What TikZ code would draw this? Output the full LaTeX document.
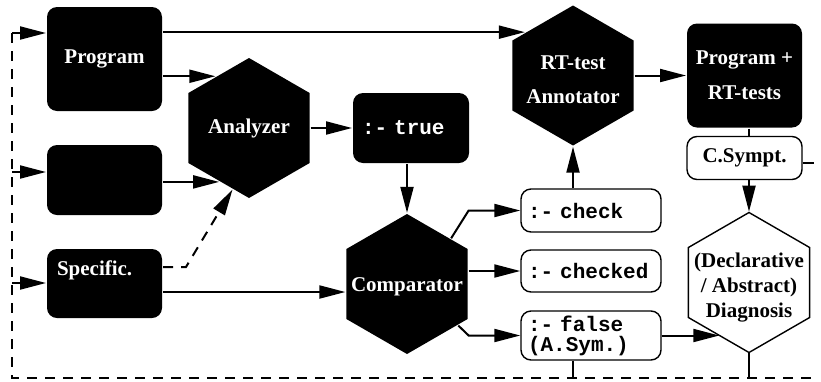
\documentclass[tikz,border=0pt]{standalone}
\usepackage{fontspec}
\setmainfont{Liberation Serif}
\setmonofont{Liberation Mono}
\usetikzlibrary{positioning,shapes.geometric,arrows.meta}
\newcommand{\diafont}{\fontsize{21}{25}\selectfont\bfseries}
\newcommand{\codefont}{\fontsize{21}{25}\selectfont\ttfamily\bfseries}
\tikzset{
  box/.style={rectangle, rounded corners=10pt, minimum width=115pt, fill=black, text=white, align=center},
  whitebox/.style={box, fill=white, draw=black, line width=1.4pt, text=black},
  codebox/.style={rectangle, rounded corners=10pt, draw=black, fill=white, line width=1.4pt, text width=126pt, inner xsep=7pt, align=left, font=\codefont},
  hexa/.style={regular polygon, regular polygon sides=6, shape border rotate=30, minimum size=140pt, inner sep=0pt, fill=black},
  hexlabel/.style={text=white, align=center},
  feedback/.style={dash pattern=on 10pt off 8pt}
}

\begin{document}
\begin{tikzpicture}[on grid, line width=2pt, >={Triangle[length=26pt,width=13pt]}, every node/.style={font=\diafont}]
\useasboundingbox (0,0) rectangle (821pt,-381pt);
\node[box, minimum height=104pt] (prog) at (104.5pt,-59pt) {Program};
\node[box, minimum height=70pt] (input) [below=121pt of prog] {};
\node[box, minimum height=69pt, text width=95pt, align=left, text height=15pt, text depth=32pt] (spec) [below=103.5pt of input] {Specific.};
\node[hexa, label={[hexlabel]center:Analyzer}] (anlz) [below right=69pt and 144.5pt of prog] {};
\node[box, minimum width=116pt, minimum height=70pt, text width=98pt, align=left, font=\codefont] (tru) [right=162pt of anlz] {:- true};
\node[hexa, label={[hexlabel, yshift=-3pt]center:Comparator}] (cmp) [below left=156pt and 4pt of tru] {};
\node[hexa, label={[hexlabel, yshift=-4pt]center:{RT-test\\[9pt]Annotator}}] (ann) [above right=52.5pt and 162pt of tru] {};
\node[box, minimum height=104pt] (out) [right=171.5pt of ann] {Program +\\[10pt]RT-tests};
\node[whitebox, minimum height=43pt] (symp) [below=82.5pt of out] {C.Sympt.};
\node[hexa, fill=white, draw=black, line width=1.4pt, label={[align=center, yshift=-5pt]center:{(Declarative\\/ Abstract)\\Diagnosis}}] (diag) [below right=124.5pt and 4.5pt of symp] {};
\node[codebox, minimum height=43pt] (chk) [below right=135pt and 18pt of ann] {:- check};
\node[codebox, minimum height=42pt] (chkd) [below=60.5pt of chk] {:- checked};
\node[codebox, minimum height=49pt] (fls) [below=64.5pt of chkd] {:- false\\[-5pt](A.Sym.)};

\coordinate (fb1) at (12pt,-33pt);
\coordinate (fb2) at (12pt,-172pt);
\coordinate (fb3) at (12pt,-283pt);
\coordinate (fbbot) at (12pt,-378pt);
\coordinate (fbend) at (817pt,-378pt);
\coordinate (sc) at ([yshift=-8pt]cmp.180);
\coordinate (rt) at ([xshift=11pt,yshift=-4.5pt]symp.east);

\draw[feedback] (fb1) -- (fbbot) -- (fbend);
\path[->]
(fb1) edge (fb1 -| prog.west)
(fb2) edge (fb2 -| input.west)
(fb3) edge (fb3 -| spec.west)
(prog.east |- ann.138) edge (ann.138)
(prog.east |- anlz.123) edge (anlz.123)
(input.east |- anlz.241) edge (anlz.241)
(spec.east |- sc) edge (sc)
(anlz) edge (tru)
(tru.south -| cmp.90) edge (cmp.90)
(cmp.0 |- chkd.west) edge (chkd.west)
(chk.north -| ann.270) edge (ann.270)
(ann) edge (out)
(symp.south -| diag.90) edge (diag.90)
(fls.east) edge (fls.east -| diag.241);
\draw[->] (cmp.46) -- (cmp.0 |- chk.west) -- (chk.west);
\draw[->] (cmp.321) -- (cmp.0 |- fls.west) -- (fls.west);
\draw[->, feedback] ([yshift=16.5pt]spec.east) -- ++(23pt,0) -- (anlz.255);
\draw (out.south -| diag.90) -- (symp.north -| diag.90);
\draw ([yshift=-4.5pt]symp.east) -- (rt);
\draw (fls.south -| ann.270) -- (fbbot -| ann.270);
\draw (diag.270) -- (fbbot -| diag.270);
\end{tikzpicture}
\end{document}
